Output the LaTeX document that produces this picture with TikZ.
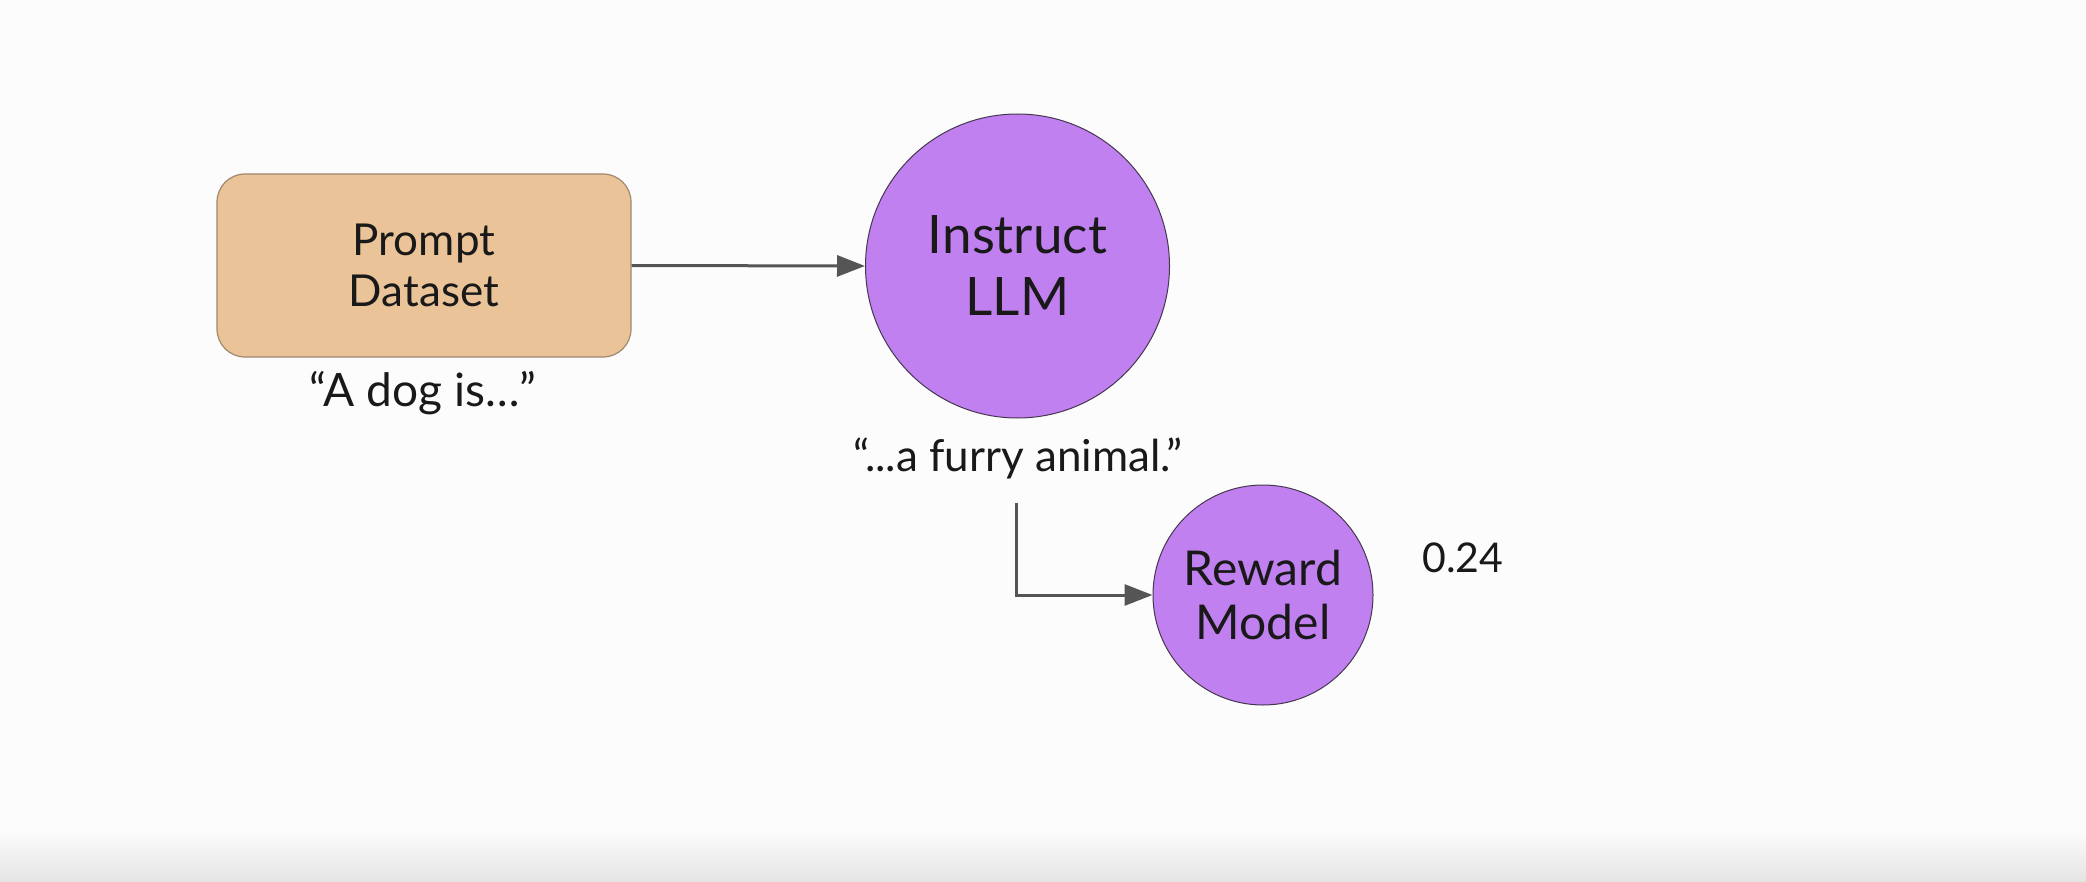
\documentclass[tikz,border=0pt]{standalone}
\usepackage{fontspec}
\setmainfont{Lato}
\usetikzlibrary{arrows.meta}
\definecolor{boxfill}{RGB}{235,195,153}
\definecolor{boxedge}{RGB}{160,135,110}
\definecolor{purp}{RGB}{193,128,240}
\definecolor{purpedge}{RGB}{70,55,80}
\definecolor{linegray}{RGB}{85,85,85}
\definecolor{txt}{RGB}{25,25,25}
\definecolor{bgfade}{RGB}{228,228,228}
\begin{document}
\begin{tikzpicture}[x=0.5pt,y=-0.5pt,
  dataset/.style={draw=boxedge,line width=0.6pt,fill=boxfill,rounded corners=14pt,
    minimum width=207pt,minimum height=91.5pt,align=center,text=txt,inner sep=0pt},
  model/.style={circle,draw=purpedge,line width=0.5pt,fill=purp,align=center,text=txt,inner sep=0pt},
  label/.style={text=txt,inner sep=0pt,anchor=base},
  conn/.style={draw=linegray,line width=1.5pt,-{Triangle[length=14pt,width=10.5pt]}}]
\useasboundingbox (0,0) rectangle (2086,882);
\fill[white!98.8!black] (0,0) rectangle (2086,882);
\shade[top color=white!98.8!black,bottom color=bgfade] (0,830) rectangle (2086,882);
\node[dataset,font=\fontsize{22}{25.5}\selectfont] (pd) at (424,265.5) {Prompt\\Dataset};
\node[model,minimum size=152pt,font=\fontsize{26.5}{31}\selectfont] (llm) at (1017.5,266) {Instruct\\LLM};
\node[model,minimum size=110pt,font=\fontsize{24}{27}\selectfont] (rm) at (1263,595) {Reward\\Model};
\node[label,font=\fontsize{23}{26}\selectfont] (prompt) at (423,406) {“A dog is…”};
\node[label,font=\fontsize{22}{26}\selectfont] (resp) at (1018,471) {“...a furry animal.”};
\node[label,font=\fontsize{20.5}{24}\selectfont] (score) at (1463,572) {0.24};
\coordinate (elb) at (1016,503);
\draw[conn] (pd.east) -- (llm.west);
\draw[conn] (elb) |- (rm.west);
\end{tikzpicture}
\end{document}
